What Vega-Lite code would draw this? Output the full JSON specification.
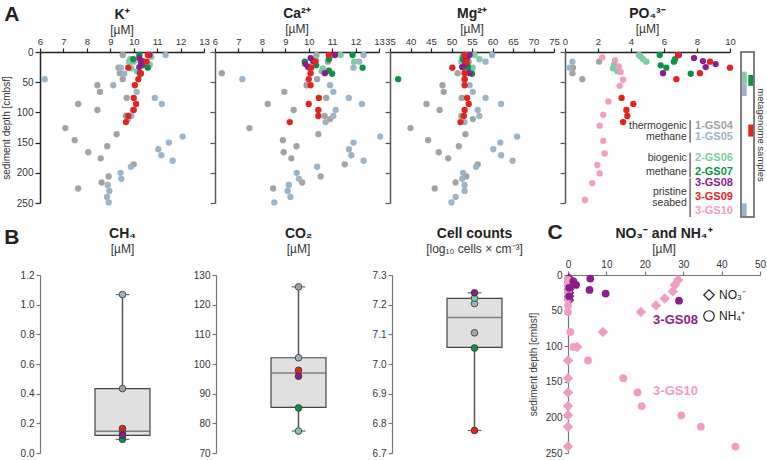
{
"$schema":"https://vega.github.io/schema/vega-lite/v6.json",
"background":"white",
"padding":{"left":1,"top":4,"right":0,"bottom":0},
"config":{
 "font":"Liberation Sans, Arial, sans-serif",
 "view":{"stroke":null},
 "axis":{"grid":false,"labelFontSize":10,"labelColor":"#333","titleFontSize":10,"titleFontWeight":"normal","titleColor":"#333","domainColor":"#222","domainWidth":1.5,"tickColor":"#222","tickWidth":1.2,"tickSize":4,"labelPadding":2,"labelFlush":false,"labelOverlap":false},
 "title":{"fontSize":14,"fontWeight":"bold","color":"#222","subtitleFontSize":12,"subtitleColor":"#333","subtitlePadding":3,"anchor":"middle"}
},
"datasets":{
"top":[
{"p":"K","s":"1-GS04","d":5,"v":9.53},{"p":"K","s":"1-GS04","d":16,"v":9.9},{"p":"K","s":"1-GS04","d":26,"v":9.35},{"p":"K","s":"1-GS04","d":35,"v":9.41},{"p":"K","s":"1-GS04","d":45,"v":9.53},{"p":"K","s":"1-GS04","d":55,"v":8.45},{"p":"K","s":"1-GS04","d":66,"v":8.56},{"p":"K","s":"1-GS04","d":76,"v":9.7},{"p":"K","s":"1-GS04","d":86,"v":7.63},{"p":"K","s":"1-GS04","d":96,"v":8.45},{"p":"K","s":"1-GS04","d":106,"v":9.67},{"p":"K","s":"1-GS04","d":111,"v":9.75},{"p":"K","s":"1-GS04","d":126,"v":7.08},{"p":"K","s":"1-GS04","d":136,"v":9.27},{"p":"K","s":"1-GS04","d":146,"v":7.48},{"p":"K","s":"1-GS04","d":156,"v":8.87},{"p":"K","s":"1-GS04","d":166,"v":8.06},{"p":"K","s":"1-GS04","d":176,"v":8.59},{"p":"K","s":"1-GS04","d":186,"v":10.0},{"p":"K","s":"1-GS04","d":206,"v":8.93},{"p":"K","s":"1-GS04","d":216,"v":8.63},{"p":"K","s":"1-GS04","d":226,"v":7.63},
{"p":"K","s":"1-GS05","d":5,"v":11.36},{"p":"K","s":"1-GS05","d":16,"v":10.0},{"p":"K","s":"1-GS05","d":26,"v":9.45},{"p":"K","s":"1-GS05","d":36,"v":9.6},{"p":"K","s":"1-GS05","d":45,"v":6.2},{"p":"K","s":"1-GS05","d":55,"v":9.13},{"p":"K","s":"1-GS05","d":66,"v":10.13},{"p":"K","s":"1-GS05","d":76,"v":10.9},{"p":"K","s":"1-GS05","d":86,"v":11.2},{"p":"K","s":"1-GS05","d":96,"v":9.96},{"p":"K","s":"1-GS05","d":106,"v":9.9},{"p":"K","s":"1-GS05","d":140,"v":12.09},{"p":"K","s":"1-GS05","d":150,"v":11.5},{"p":"K","s":"1-GS05","d":161,"v":11.05},{"p":"K","s":"1-GS05","d":171,"v":11.18},{"p":"K","s":"1-GS05","d":180,"v":11.66},{"p":"K","s":"1-GS05","d":190,"v":9.88},{"p":"K","s":"1-GS05","d":200,"v":9.44},{"p":"K","s":"1-GS05","d":210,"v":9.47},{"p":"K","s":"1-GS05","d":220,"v":8.89},{"p":"K","s":"1-GS05","d":230,"v":8.96},{"p":"K","s":"1-GS05","d":240,"v":8.86},{"p":"K","s":"1-GS05","d":249,"v":8.93},
{"p":"K","s":"2-GS06","d":5,"v":10.7},{"p":"K","s":"2-GS06","d":8,"v":10.75},{"p":"K","s":"2-GS06","d":12,"v":9.85},{"p":"K","s":"2-GS06","d":16,"v":9.8},{"p":"K","s":"2-GS06","d":21,"v":10.69},{"p":"K","s":"2-GS06","d":27,"v":9.9},{"p":"K","s":"2-GS06","d":32,"v":10.13},
{"p":"K","s":"2-GS07","d":5,"v":10.24},{"p":"K","s":"2-GS07","d":12,"v":9.98},{"p":"K","s":"2-GS07","d":16,"v":10.3},{"p":"K","s":"2-GS07","d":22,"v":10.38},{"p":"K","s":"2-GS07","d":26,"v":10.6},{"p":"K","s":"2-GS07","d":36,"v":10.3},
{"p":"K","s":"3-GS08","d":5,"v":10.67},{"p":"K","s":"3-GS08","d":10,"v":10.24},{"p":"K","s":"3-GS08","d":15,"v":10.38},{"p":"K","s":"3-GS08","d":20,"v":10.34},{"p":"K","s":"3-GS08","d":25,"v":10.24},{"p":"K","s":"3-GS08","d":35,"v":10.27},
{"p":"K","s":"3-GS09","d":5,"v":10.6},{"p":"K","s":"3-GS09","d":16,"v":10.55},{"p":"K","s":"3-GS09","d":26,"v":9.77},{"p":"K","s":"3-GS09","d":35,"v":10.3},{"p":"K","s":"3-GS09","d":45,"v":10.2},{"p":"K","s":"3-GS09","d":55,"v":10.05},{"p":"K","s":"3-GS09","d":76,"v":10.0},{"p":"K","s":"3-GS09","d":86,"v":10.1},{"p":"K","s":"3-GS09","d":96,"v":10.0},{"p":"K","s":"3-GS09","d":106,"v":9.77},{"p":"K","s":"3-GS09","d":116,"v":9.67},
{"p":"Ca","s":"1-GS04","d":5,"v":10.33},{"p":"Ca","s":"1-GS04","d":16,"v":10.82},{"p":"Ca","s":"1-GS04","d":26,"v":10.03},{"p":"Ca","s":"1-GS04","d":35,"v":6.29},{"p":"Ca","s":"1-GS04","d":45,"v":10.36},{"p":"Ca","s":"1-GS04","d":55,"v":9.91},{"p":"Ca","s":"1-GS04","d":66,"v":8.96},{"p":"Ca","s":"1-GS04","d":76,"v":10.75},{"p":"Ca","s":"1-GS04","d":86,"v":8.25},{"p":"Ca","s":"1-GS04","d":96,"v":9.36},{"p":"Ca","s":"1-GS04","d":106,"v":10.68},{"p":"Ca","s":"1-GS04","d":111,"v":10.91},{"p":"Ca","s":"1-GS04","d":126,"v":7.47},{"p":"Ca","s":"1-GS04","d":136,"v":10.41},{"p":"Ca","s":"1-GS04","d":146,"v":8.9},{"p":"Ca","s":"1-GS04","d":156,"v":9.48},{"p":"Ca","s":"1-GS04","d":166,"v":8.93},{"p":"Ca","s":"1-GS04","d":176,"v":9.26},{"p":"Ca","s":"1-GS04","d":186,"v":11.54},{"p":"Ca","s":"1-GS04","d":206,"v":10.51},{"p":"Ca","s":"1-GS04","d":216,"v":9.72},{"p":"Ca","s":"1-GS04","d":226,"v":8.48},
{"p":"Ca","s":"1-GS05","d":5,"v":12.34},{"p":"Ca","s":"1-GS05","d":16,"v":12.15},{"p":"Ca","s":"1-GS05","d":26,"v":11.91},{"p":"Ca","s":"1-GS05","d":45,"v":7.17},{"p":"Ca","s":"1-GS05","d":55,"v":10.91},{"p":"Ca","s":"1-GS05","d":66,"v":11.05},{"p":"Ca","s":"1-GS05","d":76,"v":11.71},{"p":"Ca","s":"1-GS05","d":86,"v":12.27},{"p":"Ca","s":"1-GS05","d":96,"v":11.15},{"p":"Ca","s":"1-GS05","d":106,"v":11.05},{"p":"Ca","s":"1-GS05","d":116,"v":10.72},{"p":"Ca","s":"1-GS05","d":140,"v":13.05},{"p":"Ca","s":"1-GS05","d":150,"v":11.91},{"p":"Ca","s":"1-GS05","d":161,"v":11.72},{"p":"Ca","s":"1-GS05","d":171,"v":11.82},{"p":"Ca","s":"1-GS05","d":180,"v":12.34},{"p":"Ca","s":"1-GS05","d":190,"v":10.36},{"p":"Ca","s":"1-GS05","d":200,"v":9.49},{"p":"Ca","s":"1-GS05","d":210,"v":9.58},{"p":"Ca","s":"1-GS05","d":220,"v":9.15},{"p":"Ca","s":"1-GS05","d":230,"v":9.1},{"p":"Ca","s":"1-GS05","d":240,"v":9.22},{"p":"Ca","s":"1-GS05","d":249,"v":8.53},
{"p":"Ca","s":"2-GS06","d":5,"v":11.36},{"p":"Ca","s":"2-GS06","d":8,"v":10.9},{"p":"Ca","s":"2-GS06","d":12,"v":10.3},{"p":"Ca","s":"2-GS06","d":16,"v":11.94},{"p":"Ca","s":"2-GS06","d":21,"v":10.15},{"p":"Ca","s":"2-GS06","d":27,"v":10.6},{"p":"Ca","s":"2-GS06","d":32,"v":10.55},
{"p":"Ca","s":"2-GS07","d":5,"v":11.87},{"p":"Ca","s":"2-GS07","d":12,"v":10.86},{"p":"Ca","s":"2-GS07","d":16,"v":9.83},{"p":"Ca","s":"2-GS07","d":22,"v":10.32},{"p":"Ca","s":"2-GS07","d":26,"v":12.3},{"p":"Ca","s":"2-GS07","d":31,"v":10.86},{"p":"Ca","s":"2-GS07","d":36,"v":11.0},
{"p":"Ca","s":"3-GS08","d":5,"v":11.12},{"p":"Ca","s":"3-GS08","d":10,"v":10.08},{"p":"Ca","s":"3-GS08","d":15,"v":10.2},{"p":"Ca","s":"3-GS08","d":20,"v":9.86},{"p":"Ca","s":"3-GS08","d":25,"v":9.98},{"p":"Ca","s":"3-GS08","d":35,"v":10.69},
{"p":"Ca","s":"3-GS09","d":5,"v":10.86},{"p":"Ca","s":"3-GS09","d":16,"v":10.29},{"p":"Ca","s":"3-GS09","d":26,"v":10.1},{"p":"Ca","s":"3-GS09","d":35,"v":10.08},{"p":"Ca","s":"3-GS09","d":45,"v":10.0},{"p":"Ca","s":"3-GS09","d":55,"v":10.08},{"p":"Ca","s":"3-GS09","d":76,"v":10.43},{"p":"Ca","s":"3-GS09","d":86,"v":10.0},{"p":"Ca","s":"3-GS09","d":96,"v":10.41},{"p":"Ca","s":"3-GS09","d":106,"v":10.41},{"p":"Ca","s":"3-GS09","d":116,"v":9.19},
{"p":"Mg","s":"1-GS04","d":5,"v":54.2},{"p":"Mg","s":"1-GS04","d":16,"v":54.2},{"p":"Mg","s":"1-GS04","d":26,"v":53.0},{"p":"Mg","s":"1-GS04","d":35,"v":51.5},{"p":"Mg","s":"1-GS04","d":45,"v":53.2},{"p":"Mg","s":"1-GS04","d":55,"v":47.8},{"p":"Mg","s":"1-GS04","d":66,"v":48.1},{"p":"Mg","s":"1-GS04","d":76,"v":52.5},{"p":"Mg","s":"1-GS04","d":86,"v":43.9},{"p":"Mg","s":"1-GS04","d":96,"v":47.1},{"p":"Mg","s":"1-GS04","d":106,"v":52.4},{"p":"Mg","s":"1-GS04","d":111,"v":55.2},{"p":"Mg","s":"1-GS04","d":126,"v":40.0},{"p":"Mg","s":"1-GS04","d":136,"v":53.4},{"p":"Mg","s":"1-GS04","d":146,"v":44.3},{"p":"Mg","s":"1-GS04","d":156,"v":51.8},{"p":"Mg","s":"1-GS04","d":166,"v":46.9},{"p":"Mg","s":"1-GS04","d":176,"v":49.2},{"p":"Mg","s":"1-GS04","d":186,"v":56.4},{"p":"Mg","s":"1-GS04","d":206,"v":53.6},{"p":"Mg","s":"1-GS04","d":216,"v":51.0},{"p":"Mg","s":"1-GS04","d":226,"v":45.9},
{"p":"Mg","s":"1-GS05","d":5,"v":59.9},{"p":"Mg","s":"1-GS05","d":16,"v":58.3},{"p":"Mg","s":"1-GS05","d":26,"v":55.2},{"p":"Mg","s":"1-GS05","d":55,"v":54.4},{"p":"Mg","s":"1-GS05","d":66,"v":55.2},{"p":"Mg","s":"1-GS05","d":76,"v":58.3},{"p":"Mg","s":"1-GS05","d":86,"v":62.1},{"p":"Mg","s":"1-GS05","d":96,"v":56.4},{"p":"Mg","s":"1-GS05","d":106,"v":56.8},{"p":"Mg","s":"1-GS05","d":116,"v":53.2},{"p":"Mg","s":"1-GS05","d":140,"v":66.0},{"p":"Mg","s":"1-GS05","d":150,"v":61.9},{"p":"Mg","s":"1-GS05","d":161,"v":60.2},{"p":"Mg","s":"1-GS05","d":171,"v":62.1},{"p":"Mg","s":"1-GS05","d":180,"v":64.9},{"p":"Mg","s":"1-GS05","d":190,"v":56.0},{"p":"Mg","s":"1-GS05","d":200,"v":52.8},{"p":"Mg","s":"1-GS05","d":210,"v":52.6},{"p":"Mg","s":"1-GS05","d":220,"v":53.2},{"p":"Mg","s":"1-GS05","d":230,"v":53.2},{"p":"Mg","s":"1-GS05","d":240,"v":51.0},{"p":"Mg","s":"1-GS05","d":249,"v":50.0},
{"p":"Mg","s":"2-GS06","d":5,"v":55.6},{"p":"Mg","s":"2-GS06","d":8,"v":52.6},{"p":"Mg","s":"2-GS06","d":12,"v":56.8},{"p":"Mg","s":"2-GS06","d":16,"v":52.4},{"p":"Mg","s":"2-GS06","d":21,"v":53.5},{"p":"Mg","s":"2-GS06","d":27,"v":55.0},{"p":"Mg","s":"2-GS06","d":32,"v":54.5},
{"p":"Mg","s":"2-GS07","d":5,"v":53.2},{"p":"Mg","s":"2-GS07","d":12,"v":52.8},{"p":"Mg","s":"2-GS07","d":16,"v":53.6},{"p":"Mg","s":"2-GS07","d":22,"v":53.9},{"p":"Mg","s":"2-GS07","d":26,"v":54.0},{"p":"Mg","s":"2-GS07","d":36,"v":55.0},{"p":"Mg","s":"2-GS07","d":45,"v":37.0},
{"p":"Mg","s":"3-GS08","d":5,"v":54.4},{"p":"Mg","s":"3-GS08","d":10,"v":53.8},{"p":"Mg","s":"3-GS08","d":15,"v":53.4},{"p":"Mg","s":"3-GS08","d":20,"v":53.4},{"p":"Mg","s":"3-GS08","d":25,"v":52.6},{"p":"Mg","s":"3-GS08","d":35,"v":54.4},
{"p":"Mg","s":"3-GS09","d":5,"v":53.2},{"p":"Mg","s":"3-GS09","d":16,"v":53.6},{"p":"Mg","s":"3-GS09","d":26,"v":50.2},{"p":"Mg","s":"3-GS09","d":35,"v":53.2},{"p":"Mg","s":"3-GS09","d":45,"v":53.2},{"p":"Mg","s":"3-GS09","d":55,"v":53.2},{"p":"Mg","s":"3-GS09","d":76,"v":53.8},{"p":"Mg","s":"3-GS09","d":86,"v":54.2},{"p":"Mg","s":"3-GS09","d":96,"v":53.2},{"p":"Mg","s":"3-GS09","d":106,"v":53.0},{"p":"Mg","s":"3-GS09","d":116,"v":52.2},
{"p":"PO4","s":"1-GS04","d":16,"v":2.06},{"p":"PO4","s":"1-GS04","d":26,"v":0.48},{"p":"PO4","s":"1-GS04","d":35,"v":0.45},{"p":"PO4","s":"1-GS04","d":45,"v":1.05},
{"p":"PO4","s":"1-GS05","d":16,"v":0.45},{"p":"PO4","s":"1-GS05","d":26,"v":0.28},
{"p":"PO4","s":"2-GS06","d":5,"v":4.48},{"p":"PO4","s":"2-GS06","d":8,"v":4.6},{"p":"PO4","s":"2-GS06","d":12,"v":4.73},{"p":"PO4","s":"2-GS06","d":16,"v":4.93},{"p":"PO4","s":"2-GS06","d":21,"v":2.97},{"p":"PO4","s":"2-GS06","d":27,"v":2.9},{"p":"PO4","s":"2-GS06","d":32,"v":3.17},
{"p":"PO4","s":"2-GS07","d":5,"v":5.74},{"p":"PO4","s":"2-GS07","d":12,"v":6.67},{"p":"PO4","s":"2-GS07","d":16,"v":6.6},{"p":"PO4","s":"2-GS07","d":22,"v":5.8},{"p":"PO4","s":"2-GS07","d":26,"v":6.14},{"p":"PO4","s":"2-GS07","d":36,"v":7.62},
{"p":"PO4","s":"3-GS08","d":5,"v":6.9},{"p":"PO4","s":"3-GS08","d":10,"v":7.82},{"p":"PO4","s":"3-GS08","d":15,"v":8.36},{"p":"PO4","s":"3-GS08","d":20,"v":9.13},{"p":"PO4","s":"3-GS08","d":25,"v":8.53},{"p":"PO4","s":"3-GS08","d":35,"v":5.94},
{"p":"PO4","s":"3-GS09","d":5,"v":6.85},{"p":"PO4","s":"3-GS09","d":16,"v":8.79},{"p":"PO4","s":"3-GS09","d":26,"v":10.0},{"p":"PO4","s":"3-GS09","d":35,"v":8.18},{"p":"PO4","s":"3-GS09","d":45,"v":6.75},{"p":"PO4","s":"3-GS09","d":76,"v":3.43},{"p":"PO4","s":"3-GS09","d":86,"v":4.14},{"p":"PO4","s":"3-GS09","d":96,"v":3.72},{"p":"PO4","s":"3-GS09","d":106,"v":3.78},{"p":"PO4","s":"3-GS09","d":116,"v":3.52},
{"p":"PO4","s":"3-GS10","d":9,"v":2.26},{"p":"PO4","s":"3-GS10","d":14,"v":3.03},{"p":"PO4","s":"3-GS10","d":24,"v":3.27},{"p":"PO4","s":"3-GS10","d":33,"v":3.37},{"p":"PO4","s":"3-GS10","d":46,"v":3.52},{"p":"PO4","s":"3-GS10","d":56,"v":3.31},{"p":"PO4","s":"3-GS10","d":82,"v":2.63},{"p":"PO4","s":"3-GS10","d":104,"v":2.32},{"p":"PO4","s":"3-GS10","d":122,"v":2.1},{"p":"PO4","s":"3-GS10","d":147,"v":2.32},{"p":"PO4","s":"3-GS10","d":168,"v":2.4},{"p":"PO4","s":"3-GS10","d":187,"v":1.96},{"p":"PO4","s":"3-GS10","d":201,"v":2.1},{"p":"PO4","s":"3-GS10","d":217,"v":1.65},{"p":"PO4","s":"3-GS10","d":245,"v":1.21}
],
"stats":[
{"p":"CH4","lo":0.092,"q1":0.119,"med":0.146,"q3":0.434,"hi":1.068},
{"p":"CO2","lo":77.4,"q1":85.4,"med":97.0,"q3":102.1,"hi":126.0},
{"p":"Cells","lo":6.776,"q1":7.056,"med":7.157,"q3":7.221,"hi":7.24}
],
"bot":[
{"p":"CH4","s":"1-GS04","v":0.434},{"p":"CH4","s":"1-GS05","v":1.068},{"p":"CH4","s":"2-GS06","v":0.14},{"p":"CH4","s":"2-GS07","v":0.092},{"p":"CH4","s":"3-GS08","v":0.12},{"p":"CH4","s":"3-GS09","v":0.165},
{"p":"CO2","s":"1-GS04","v":126.0},{"p":"CO2","s":"1-GS05","v":102.1},{"p":"CO2","s":"2-GS06","v":77.4},{"p":"CO2","s":"2-GS07","v":85.2},{"p":"CO2","s":"3-GS08","v":95.9},{"p":"CO2","s":"3-GS09","v":97.9},
{"p":"Cells","s":"1-GS04","v":7.105},{"p":"Cells","s":"1-GS05","v":7.204},{"p":"Cells","s":"2-GS06","v":7.222},{"p":"Cells","s":"2-GS07","v":7.054},{"p":"Cells","s":"3-GS08","v":7.24},{"p":"Cells","s":"3-GS09","v":6.776}
],
"cdat":[
{"s":"3-GS10","m":"NO₃⁻","d":7,"v":28.7},{"s":"3-GS10","m":"NO₃⁻","d":14,"v":27.8},{"s":"3-GS10","m":"NO₃⁻","d":23,"v":27.3},{"s":"3-GS10","m":"NO₃⁻","d":33,"v":25.2},{"s":"3-GS10","m":"NO₃⁻","d":43,"v":22.9},{"s":"3-GS10","m":"NO₃⁻","d":52,"v":19.0},{"s":"3-GS10","m":"NO₃⁻","d":80,"v":9.1},{"s":"3-GS10","m":"NO₃⁻","d":101,"v":2.4},{"s":"3-GS10","m":"NO₃⁻","d":120,"v":0},{"s":"3-GS10","m":"NO₃⁻","d":145,"v":0},{"s":"3-GS10","m":"NO₃⁻","d":165,"v":0},{"s":"3-GS10","m":"NO₃⁻","d":184,"v":0},{"s":"3-GS10","m":"NO₃⁻","d":197,"v":0},{"s":"3-GS10","m":"NO₃⁻","d":213,"v":0},{"s":"3-GS10","m":"NO₃⁻","d":241,"v":0},
{"s":"3-GS10","m":"NH₄⁺","d":7,"v":0},{"s":"3-GS10","m":"NH₄⁺","d":14,"v":0},{"s":"3-GS10","m":"NH₄⁺","d":23,"v":0},{"s":"3-GS10","m":"NH₄⁺","d":33,"v":0},{"s":"3-GS10","m":"NH₄⁺","d":43,"v":0},{"s":"3-GS10","m":"NH₄⁺","d":52,"v":0},{"s":"3-GS10","m":"NH₄⁺","d":80,"v":0.6},{"s":"3-GS10","m":"NH₄⁺","d":101,"v":1.4},{"s":"3-GS10","m":"NH₄⁺","d":120,"v":5.2},{"s":"3-GS10","m":"NH₄⁺","d":145,"v":14.4},{"s":"3-GS10","m":"NH₄⁺","d":165,"v":18.1},{"s":"3-GS10","m":"NH₄⁺","d":184,"v":19.2},{"s":"3-GS10","m":"NH₄⁺","d":197,"v":29.5},{"s":"3-GS10","m":"NH₄⁺","d":213,"v":34.6},{"s":"3-GS10","m":"NH₄⁺","d":241,"v":43.6},
{"s":"3-GS08","m":"NO₃⁻","d":5,"v":0.3},{"s":"3-GS08","m":"NO₃⁻","d":10,"v":0.3},{"s":"3-GS08","m":"NO₃⁻","d":15,"v":0.3},{"s":"3-GS08","m":"NO₃⁻","d":20,"v":0.3},{"s":"3-GS08","m":"NO₃⁻","d":25,"v":0.3},{"s":"3-GS08","m":"NO₃⁻","d":30,"v":0.3},{"s":"3-GS08","m":"NO₃⁻","d":35,"v":0.3},
{"s":"3-GS08","m":"NH₄⁺","d":5,"v":5.8},{"s":"3-GS08","m":"NH₄⁺","d":9,"v":1.4},{"s":"3-GS08","m":"NH₄⁺","d":14,"v":2.1},{"s":"3-GS08","m":"NH₄⁺","d":21,"v":5.6},{"s":"3-GS08","m":"NH₄⁺","d":26,"v":9.8},{"s":"3-GS08","m":"NH₄⁺","d":36,"v":28.9},{"s":"3-GS08","m":"NH₄⁺","d":30,"v":0.3},{"s":"3-GS08","m":"NH₄⁺","d":18,"v":0.3}
],
"meta":[
{"s":"2-GS06","col":"a","d1":32.5,"d2":52},{"s":"1-GS05","col":"a","d1":52,"d2":73},{"s":"1-GS05","col":"a","d1":250.5,"d2":271.5},{"s":"2-GS07","col":"b","d1":38,"d2":56},{"s":"3-GS09","col":"b","d1":120,"d2":140}
]
},
"bounds":"flush",
"spacing":223,
"resolve":{"scale":{"x":"independent","y":"independent","color":"independent","shape":"independent"}},
"vconcat":[
{
"hconcat":[
{
 "width":164,"height":151,
 "title":{"text":"K⁺","subtitle":"[µM]","offset":-32},
 "layer":[
  {"data":{"name":"top"},"transform":[{"filter":"datum.p === 'K'"}],
   "mark":{"type":"circle","size":40,"opacity":1},
   "encoding":{
    "x":{"field":"v","type":"quantitative","scale":{"domain":[6,13],"nice":false,"zero":false},"axis":{"orient":"top","values":[6,7,8,9,10,11,12,13],"title":null,"labelOverlap":false,"labelFontSize":9.5}},
    "y":{"field":"d","type":"quantitative","scale":{"domain":[0,250],"nice":false,"reverse":true},"axis":{"values":[0,50,100,150,200,250],"title":"sediment depth [cmbsf]","tickSize":5,"titlePadding":5,"labelOverlap":false}},
    "color":{"field":"s","type":"nominal","scale":{"domain":["1-GS04","1-GS05","2-GS06","2-GS07","3-GS08","3-GS09","3-GS10"],"range":["#a3a3a3","#9db4c6","#7ecba5","#0e9147","#8c1d8a","#e3231f","#f09cc3"]},"legend":null}
   }},
  {"data":{"values":[{"t":"A","v":4.8,"d":-61},{"t":"B","v":4.8,"d":308},{"t":"C","v":27.98,"d":300}]},
   "mark":{"type":"text","fontSize":21,"fontWeight":"bold","color":"#222","align":"center","baseline":"middle"},
   "encoding":{
    "x":{"field":"v","type":"quantitative","axis":{"orient":"top","values":[6,7,8,9,10,11,12,13],"title":null,"labelOverlap":false,"labelFontSize":9.5}},
    "y":{"field":"d","type":"quantitative","axis":{"values":[0,50,100,150,200,250],"title":"sediment depth [cmbsf]","tickSize":5,"titlePadding":5,"labelOverlap":false}},
    "text":{"field":"t"}}}
 ]
},
{
 "width":164,"height":151,
 "title":{"text":"Ca²⁺","subtitle":"[µM]","offset":1},
 "data":{"name":"top"},"transform":[{"filter":"datum.p === 'Ca'"}],
 "mark":{"type":"circle","size":40,"opacity":1},
 "encoding":{
  "x":{"field":"v","type":"quantitative","scale":{"domain":[6,13],"nice":false,"zero":false},"axis":{"orient":"top","values":[6,7,8,9,10,11,12,13],"title":null,"labelOverlap":false,"labelFontSize":9.5}},
  "y":{"field":"d","type":"quantitative","scale":{"domain":[0,250],"nice":false,"reverse":true},"axis":{"values":[0,50,100,150,200,250],"title":null,"labels":false,"tickSize":5,"domainColor":"#555","tickColor":"#555"}},
  "color":{"field":"s","type":"nominal","scale":{"domain":["1-GS04","1-GS05","2-GS06","2-GS07","3-GS08","3-GS09","3-GS10"],"range":["#a3a3a3","#9db4c6","#7ecba5","#0e9147","#8c1d8a","#e3231f","#f09cc3"]},"legend":null}
 }
},
{
 "width":164,"height":151,
 "title":{"text":"Mg²⁺","subtitle":"[µM]","offset":1},
 "data":{"name":"top"},"transform":[{"filter":"datum.p === 'Mg'"}],
 "mark":{"type":"circle","size":40,"opacity":1},
 "encoding":{
  "x":{"field":"v","type":"quantitative","scale":{"domain":[35,75],"nice":false,"zero":false},"axis":{"orient":"top","values":[35,40,45,50,55,60,65,70,75],"title":null,"labelOverlap":false,"labelFontSize":9.5}},
  "y":{"field":"d","type":"quantitative","scale":{"domain":[0,250],"nice":false,"reverse":true},"axis":{"values":[0,50,100,150,200,250],"title":null,"labels":false,"tickSize":5,"domainColor":"#555","tickColor":"#555"}},
  "color":{"field":"s","type":"nominal","scale":{"domain":["1-GS04","1-GS05","2-GS06","2-GS07","3-GS08","3-GS09","3-GS10"],"range":["#a3a3a3","#9db4c6","#7ecba5","#0e9147","#8c1d8a","#e3231f","#f09cc3"]},"legend":null}
 }
},
{
 "width":165,"height":151,
 "title":{"text":"PO₄³⁻","subtitle":"[µM]","offset":1},
 "layer":[
  {"data":{"name":"top"},"transform":[{"filter":"datum.p === 'PO4'"}],
   "mark":{"type":"circle","size":40,"opacity":1},
   "encoding":{
    "x":{"field":"v","type":"quantitative","scale":{"domain":[0,10],"nice":false},"axis":{"orient":"top","values":[0,2,4,6,8,10],"title":null,"labelOverlap":false,"labelFontSize":9.5}},
    "y":{"field":"d","type":"quantitative","scale":{"domain":[0,250],"nice":false,"reverse":true},"axis":{"values":[0,50,100,150,200,250],"title":null,"labels":false,"tickSize":5,"domainColor":"#555","tickColor":"#555"}},
    "color":{"field":"s","type":"nominal","scale":{"domain":["1-GS04","1-GS05","2-GS06","2-GS07","3-GS08","3-GS09","3-GS10"],"range":["#a3a3a3","#9db4c6","#7ecba5","#0e9147","#8c1d8a","#e3231f","#f09cc3"]},"legend":null}
   }},
  {"data":{"values":[{"t":"thermogenic","v":7.38,"d":122.5},{"t":"methane","v":7.38,"d":140},{"t":"biogenic","v":7.38,"d":176},{"t":"methane","v":7.38,"d":198},{"t":"pristine","v":7.38,"d":231},{"t":"seabed","v":7.38,"d":250.5}]},
   "mark":{"type":"text","fontSize":10.5,"color":"#333","align":"right","baseline":"middle"},
   "encoding":{
    "x":{"field":"v","type":"quantitative","axis":{"orient":"top","values":[0,2,4,6,8,10],"title":null,"labelOverlap":false,"labelFontSize":9.5}},
    "y":{"field":"d","type":"quantitative","axis":{"values":[0,50,100,150,200,250],"title":null,"labels":false,"tickSize":5,"domainColor":"#555","tickColor":"#555"}},
    "text":{"field":"t"}}},
  {"data":{"values":[{"s":"1-GS04","v":7.88,"d":122.5},{"s":"1-GS05","v":7.88,"d":140},{"s":"2-GS06","v":7.88,"d":176},{"s":"2-GS07","v":7.88,"d":198},{"s":"3-GS08","v":7.88,"d":217},{"s":"3-GS09","v":7.88,"d":240},{"s":"3-GS10","v":7.88,"d":263}]},
   "mark":{"type":"text","fontSize":11,"fontWeight":"bold","align":"left","baseline":"middle"},
   "encoding":{
    "x":{"field":"v","type":"quantitative","axis":{"orient":"top","values":[0,2,4,6,8,10],"title":null,"labelOverlap":false,"labelFontSize":9.5}},
    "y":{"field":"d","type":"quantitative","axis":{"values":[0,50,100,150,200,250],"title":null,"labels":false,"tickSize":5,"domainColor":"#555","tickColor":"#555"}},
    "text":{"field":"s"},
    "color":{"field":"s","type":"nominal","scale":{"domain":["1-GS04","1-GS05","2-GS06","2-GS07","3-GS08","3-GS09","3-GS10"],"range":["#a3a3a3","#9db4c6","#7ecba5","#0e9147","#8c1d8a","#e3231f","#f09cc3"]},"legend":null}}},
  {"data":{"values":[{"v":7.58,"d1":113,"d2":150},{"v":7.58,"d1":167,"d2":207},{"v":7.58,"d1":209,"d2":273}]},
   "mark":{"type":"rule","color":"#555","strokeWidth":1.3},
   "encoding":{
    "x":{"field":"v","type":"quantitative","axis":{"orient":"top","values":[0,2,4,6,8,10],"title":null,"labelOverlap":false,"labelFontSize":9.5}},
    "y":{"field":"d1","type":"quantitative","axis":{"values":[0,50,100,150,200,250],"title":null,"labels":false,"tickSize":5,"domainColor":"#555","tickColor":"#555"}},
    "y2":{"field":"d2"}}}
 ]
},
{
 "width":13,"height":165,
 "view":{"stroke":"#555","strokeWidth":1.5},
 "data":{"name":"meta"},
 "mark":{"type":"bar"},
 "encoding":{
  "x":{"field":"col","type":"nominal","scale":{"domain":["a","b"],"paddingInner":0.25,"paddingOuter":0.15},"axis":null},
  "y":{"field":"d1","type":"quantitative","scale":{"domain":[0,273],"nice":false,"reverse":true},"axis":{"orient":"right","title":"metagenome samples","labels":false,"ticks":false,"domain":false,"titleFontSize":9.5,"titlePadding":1}},
  "y2":{"field":"d2"},
  "color":{"field":"s","type":"nominal","scale":{"domain":["1-GS04","1-GS05","2-GS06","2-GS07","3-GS08","3-GS09","3-GS10"],"range":["#a3a3a3","#9db4c6","#7ecba5","#0e9147","#8c1d8a","#e3231f","#f09cc3"]},"legend":null}
 }
}
],
"spacing":11,
"bounds":"flush",
"resolve":{"scale":{"x":"independent","y":"independent","color":"independent"}}
},
{
"hconcat":[
{
 "width":165,"height":178,
 "title":{"text":"CH₄","subtitle":"[µM]","offset":15},
 "layer":[
  {"data":{"name":"stats"},"transform":[{"filter":"datum.p === 'CH4'"}],"mark":{"type":"rule","color":"#555","strokeWidth":1.5},
   "encoding":{"x":{"field":"p","type":"nominal","scale":{"paddingInner":0,"paddingOuter":1.03},"axis":null},
    "y":{"field":"lo","type":"quantitative","scale":{"domain":[0,1.2],"nice":false},"axis":{"values":[0,0.2,0.4,0.6,0.8,1.0,1.2],"format":".1f","title":null,"domainColor":"#777","tickColor":"#777","domainWidth":1.2,"labelOverlap":false}},
    "y2":{"field":"hi"}}},
  {"data":{"name":"stats"},"transform":[{"filter":"datum.p === 'CH4'"}],"mark":{"type":"bar","fill":"#e0e0e0","stroke":"#444","strokeWidth":1.2},
   "encoding":{"x":{"field":"p","type":"nominal","axis":null},"y":{"field":"q1","type":"quantitative","axis":{"values":[0,0.2,0.4,0.6,0.8,1.0,1.2],"format":".1f","title":null,"domainColor":"#777","tickColor":"#777","domainWidth":1.2,"labelOverlap":false}},"y2":{"field":"q3"}}},
  {"data":{"name":"stats"},"transform":[{"filter":"datum.p === 'CH4'"}],"mark":{"type":"tick","color":"#555","size":54,"thickness":1.5},
   "encoding":{"x":{"field":"p","type":"nominal","axis":null},"y":{"field":"med","type":"quantitative","axis":{"values":[0,0.2,0.4,0.6,0.8,1.0,1.2],"format":".1f","title":null,"domainColor":"#777","tickColor":"#777","domainWidth":1.2,"labelOverlap":false}}}},
  {"data":{"name":"stats"},"transform":[{"filter":"datum.p === 'CH4'"}],"mark":{"type":"tick","color":"#333","size":14,"thickness":1.2},
   "encoding":{"x":{"field":"p","type":"nominal","axis":null},"y":{"field":"lo","type":"quantitative","axis":{"values":[0,0.2,0.4,0.6,0.8,1.0,1.2],"format":".1f","title":null,"domainColor":"#777","tickColor":"#777","domainWidth":1.2,"labelOverlap":false}}}},
  {"data":{"name":"stats"},"transform":[{"filter":"datum.p === 'CH4'"}],"mark":{"type":"tick","color":"#333","size":14,"thickness":1.2},
   "encoding":{"x":{"field":"p","type":"nominal","axis":null},"y":{"field":"hi","type":"quantitative","axis":{"values":[0,0.2,0.4,0.6,0.8,1.0,1.2],"format":".1f","title":null,"domainColor":"#777","tickColor":"#777","domainWidth":1.2,"labelOverlap":false}}}},
  {"data":{"name":"bot"},"transform":[{"filter":"datum.p === 'CH4'"}],"mark":{"type":"circle","size":45,"stroke":"#333","strokeWidth":0.8,"opacity":1},
   "encoding":{"x":{"field":"p","type":"nominal","axis":null},"y":{"field":"v","type":"quantitative","axis":{"values":[0,0.2,0.4,0.6,0.8,1.0,1.2],"format":".1f","title":null,"domainColor":"#777","tickColor":"#777","domainWidth":1.2,"labelOverlap":false}},
    "color":{"field":"s","type":"nominal","scale":{"domain":["1-GS04","1-GS05","2-GS06","2-GS07","3-GS08","3-GS09","3-GS10"],"range":["#a3a3a3","#9db4c6","#7ecba5","#0e9147","#8c1d8a","#e3231f","#f09cc3"]},"legend":null}}}
 ]
},
{
 "width":165,"height":178,
 "title":{"text":"CO₂","subtitle":"[µM]","offset":15},
 "layer":[
  {"data":{"name":"stats"},"transform":[{"filter":"datum.p === 'CO2'"}],"mark":{"type":"rule","color":"#555","strokeWidth":1.5},
   "encoding":{"x":{"field":"p","type":"nominal","scale":{"paddingInner":0,"paddingOuter":1.03},"axis":null},
    "y":{"field":"lo","type":"quantitative","scale":{"domain":[70,130],"nice":false,"zero":false},"axis":{"values":[70,80,90,100,110,120,130],"title":null,"domainColor":"#777","tickColor":"#777","domainWidth":1.2,"labelOverlap":false}},
    "y2":{"field":"hi"}}},
  {"data":{"name":"stats"},"transform":[{"filter":"datum.p === 'CO2'"}],"mark":{"type":"bar","fill":"#e0e0e0","stroke":"#444","strokeWidth":1.2},
   "encoding":{"x":{"field":"p","type":"nominal","axis":null},"y":{"field":"q1","type":"quantitative","axis":{"values":[70,80,90,100,110,120,130],"title":null,"domainColor":"#777","tickColor":"#777","domainWidth":1.2,"labelOverlap":false}},"y2":{"field":"q3"}}},
  {"data":{"name":"stats"},"transform":[{"filter":"datum.p === 'CO2'"}],"mark":{"type":"tick","color":"#555","size":54,"thickness":1.5},
   "encoding":{"x":{"field":"p","type":"nominal","axis":null},"y":{"field":"med","type":"quantitative","axis":{"values":[70,80,90,100,110,120,130],"title":null,"domainColor":"#777","tickColor":"#777","domainWidth":1.2,"labelOverlap":false}}}},
  {"data":{"name":"stats"},"transform":[{"filter":"datum.p === 'CO2'"}],"mark":{"type":"tick","color":"#333","size":14,"thickness":1.2},
   "encoding":{"x":{"field":"p","type":"nominal","axis":null},"y":{"field":"lo","type":"quantitative","axis":{"values":[70,80,90,100,110,120,130],"title":null,"domainColor":"#777","tickColor":"#777","domainWidth":1.2,"labelOverlap":false}}}},
  {"data":{"name":"stats"},"transform":[{"filter":"datum.p === 'CO2'"}],"mark":{"type":"tick","color":"#333","size":14,"thickness":1.2},
   "encoding":{"x":{"field":"p","type":"nominal","axis":null},"y":{"field":"hi","type":"quantitative","axis":{"values":[70,80,90,100,110,120,130],"title":null,"domainColor":"#777","tickColor":"#777","domainWidth":1.2,"labelOverlap":false}}}},
  {"data":{"name":"bot"},"transform":[{"filter":"datum.p === 'CO2'"}],"mark":{"type":"circle","size":45,"stroke":"#333","strokeWidth":0.8,"opacity":1},
   "encoding":{"x":{"field":"p","type":"nominal","axis":null},"y":{"field":"v","type":"quantitative","axis":{"values":[70,80,90,100,110,120,130],"title":null,"domainColor":"#777","tickColor":"#777","domainWidth":1.2,"labelOverlap":false}},
    "color":{"field":"s","type":"nominal","scale":{"domain":["1-GS04","1-GS05","2-GS06","2-GS07","3-GS08","3-GS09","3-GS10"],"range":["#a3a3a3","#9db4c6","#7ecba5","#0e9147","#8c1d8a","#e3231f","#f09cc3"]},"legend":null}}}
 ]
},
{
 "width":165,"height":178,
 "title":{"text":"Cell counts","subtitle":"[log₁₀ cells × cm⁻³]","offset":15},
 "layer":[
  {"data":{"name":"stats"},"transform":[{"filter":"datum.p === 'Cells'"}],"mark":{"type":"rule","color":"#555","strokeWidth":1.5},
   "encoding":{"x":{"field":"p","type":"nominal","scale":{"paddingInner":0,"paddingOuter":1.03},"axis":null},
    "y":{"field":"lo","type":"quantitative","scale":{"domain":[6.7,7.3],"nice":false,"zero":false},"axis":{"values":[6.7,6.8,6.9,7.0,7.1,7.2,7.3],"format":".1f","title":null,"domainColor":"#777","tickColor":"#777","domainWidth":1.2,"labelOverlap":false}},
    "y2":{"field":"hi"}}},
  {"data":{"name":"stats"},"transform":[{"filter":"datum.p === 'Cells'"}],"mark":{"type":"bar","fill":"#e0e0e0","stroke":"#444","strokeWidth":1.2},
   "encoding":{"x":{"field":"p","type":"nominal","axis":null},"y":{"field":"q1","type":"quantitative","axis":{"values":[6.7,6.8,6.9,7.0,7.1,7.2,7.3],"format":".1f","title":null,"domainColor":"#777","tickColor":"#777","domainWidth":1.2,"labelOverlap":false}},"y2":{"field":"q3"}}},
  {"data":{"name":"stats"},"transform":[{"filter":"datum.p === 'Cells'"}],"mark":{"type":"tick","color":"#555","size":54,"thickness":1.5},
   "encoding":{"x":{"field":"p","type":"nominal","axis":null},"y":{"field":"med","type":"quantitative","axis":{"values":[6.7,6.8,6.9,7.0,7.1,7.2,7.3],"format":".1f","title":null,"domainColor":"#777","tickColor":"#777","domainWidth":1.2,"labelOverlap":false}}}},
  {"data":{"name":"stats"},"transform":[{"filter":"datum.p === 'Cells'"}],"mark":{"type":"tick","color":"#333","size":14,"thickness":1.2},
   "encoding":{"x":{"field":"p","type":"nominal","axis":null},"y":{"field":"lo","type":"quantitative","axis":{"values":[6.7,6.8,6.9,7.0,7.1,7.2,7.3],"format":".1f","title":null,"domainColor":"#777","tickColor":"#777","domainWidth":1.2,"labelOverlap":false}}}},
  {"data":{"name":"stats"},"transform":[{"filter":"datum.p === 'Cells'"}],"mark":{"type":"tick","color":"#333","size":14,"thickness":1.2},
   "encoding":{"x":{"field":"p","type":"nominal","axis":null},"y":{"field":"hi","type":"quantitative","axis":{"values":[6.7,6.8,6.9,7.0,7.1,7.2,7.3],"format":".1f","title":null,"domainColor":"#777","tickColor":"#777","domainWidth":1.2,"labelOverlap":false}}}},
  {"data":{"name":"bot"},"transform":[{"filter":"datum.p === 'Cells'"}],"mark":{"type":"circle","size":45,"stroke":"#333","strokeWidth":0.8,"opacity":1},
   "encoding":{"x":{"field":"p","type":"nominal","axis":null},"y":{"field":"v","type":"quantitative","axis":{"values":[6.7,6.8,6.9,7.0,7.1,7.2,7.3],"format":".1f","title":null,"domainColor":"#777","tickColor":"#777","domainWidth":1.2,"labelOverlap":false}},
    "color":{"field":"s","type":"nominal","scale":{"domain":["1-GS04","1-GS05","2-GS06","2-GS07","3-GS08","3-GS09","3-GS10"],"range":["#a3a3a3","#9db4c6","#7ecba5","#0e9147","#8c1d8a","#e3231f","#f09cc3"]},"legend":null}}}
 ]
},
{
 "width":192,"height":178,
 "title":{"text":"NO₃⁻  and  NH₄⁺","subtitle":"[µM]","offset":4},
 "layer":[
  {"data":{"name":"cdat"},"transform":[{"filter":"datum.m === 'NO₃⁻'"}],
   "mark":{"type":"point","filled":true,"opacity":1,"size":110},
   "encoding":{
    "x":{"field":"v","type":"quantitative","scale":{"domain":[0,50],"nice":false},"axis":{"orient":"top","values":[0,10,20,30,40,50],"title":null,"domainColor":"#777","tickColor":"#777","domainWidth":1.2,"labelOverlap":false}},
    "y":{"field":"d","type":"quantitative","scale":{"domain":[0,250],"nice":false,"reverse":true},"axis":{"values":[0,50,100,150,200,250],"title":"sediment depth [cmbsf]","titlePadding":7,"domainColor":"#777","tickColor":"#777","domainWidth":1.2,"labelOverlap":false}},
    "shape":{"field":"m","type":"nominal","scale":{"domain":["NO₃⁻","NH₄⁺"],"range":["diamond","circle"]},
      "legend":{"orient":"top-right","offset":10,"padding":4,"title":null,"labelFontSize":12,"labelColor":"#222","symbolSize":110,"rowPadding":5,"symbolFillColor":"white","symbolStrokeColor":"#222","symbolStrokeWidth":1.2}},
    "color":{"field":"s","type":"nominal","scale":{"domain":["1-GS04","1-GS05","2-GS06","2-GS07","3-GS08","3-GS09","3-GS10"],"range":["#a3a3a3","#9db4c6","#7ecba5","#0e9147","#8c1d8a","#e3231f","#f09cc3"]},"legend":null}
   }},
  {"data":{"name":"cdat"},"transform":[{"filter":"datum.m === 'NH₄⁺'"}],
   "mark":{"type":"point","filled":true,"opacity":1,"size":60},
   "encoding":{
    "x":{"field":"v","type":"quantitative","axis":{"orient":"top","values":[0,10,20,30,40,50],"title":null,"domainColor":"#777","tickColor":"#777","domainWidth":1.2,"labelOverlap":false}},
    "y":{"field":"d","type":"quantitative","axis":{"values":[0,50,100,150,200,250],"title":"sediment depth [cmbsf]","titlePadding":7,"domainColor":"#777","tickColor":"#777","domainWidth":1.2,"labelOverlap":false}},
    "shape":{"field":"m","type":"nominal"},
    "color":{"field":"s","type":"nominal","scale":{"domain":["1-GS04","1-GS05","2-GS06","2-GS07","3-GS08","3-GS09","3-GS10"],"range":["#a3a3a3","#9db4c6","#7ecba5","#0e9147","#8c1d8a","#e3231f","#f09cc3"]},"legend":null}
   }},
  {"data":{"values":[{"s":"3-GS08","v":28,"d":63},{"s":"3-GS10","v":28,"d":163}]},
   "mark":{"type":"text","fontSize":13,"fontWeight":"bold","align":"center","baseline":"middle"},
   "encoding":{
    "x":{"field":"v","type":"quantitative","axis":{"orient":"top","values":[0,10,20,30,40,50],"title":null,"domainColor":"#777","tickColor":"#777","domainWidth":1.2,"labelOverlap":false}},
    "y":{"field":"d","type":"quantitative","axis":{"values":[0,50,100,150,200,250],"title":"sediment depth [cmbsf]","titlePadding":7,"domainColor":"#777","tickColor":"#777","domainWidth":1.2,"labelOverlap":false}},
    "text":{"field":"s"},
    "color":{"field":"s","type":"nominal","scale":{"domain":["1-GS04","1-GS05","2-GS06","2-GS07","3-GS08","3-GS09","3-GS10"],"range":["#a3a3a3","#9db4c6","#7ecba5","#0e9147","#8c1d8a","#e3231f","#f09cc3"]},"legend":null}}}
 ]
}
],
"spacing":11,
"bounds":"flush",
"resolve":{"scale":{"x":"independent","y":"independent","color":"independent","shape":"independent"}}
}
]
}
